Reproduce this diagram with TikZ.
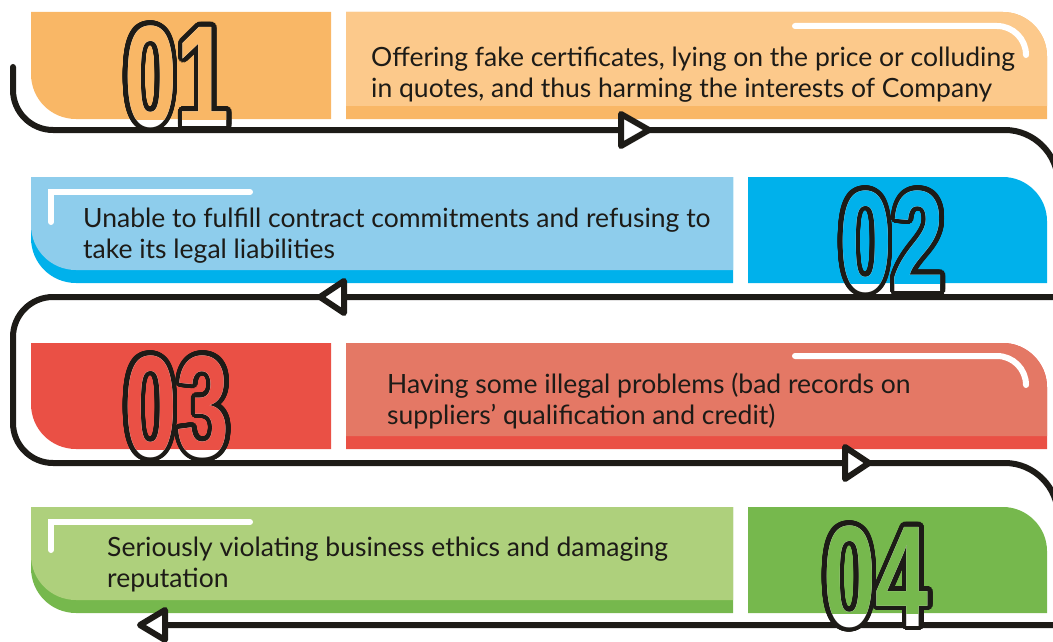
\documentclass[tikz,border=0pt]{standalone}
\usepackage{fontspec}
\setmainfont{Lato}
\newfontfamily\digitfont{Liberation Sans}[FakeStretch=0.66]
\usepackage[copies]{contour}
\contourlength{4.5pt}
\contournumber{48}
\definecolor{inkblack}{HTML}{1D1B17}
\definecolor{orangedark}{HTML}{F9B766}
\definecolor{orangelight}{HTML}{FCC98B}
\definecolor{cyandark}{HTML}{00B1EB}
\definecolor{cyanlight}{HTML}{8ECDEC}
\definecolor{reddark}{HTML}{EA5045}
\definecolor{redlight}{HTML}{E47865}
\definecolor{greendark}{HTML}{76B84D}
\definecolor{greenlight}{HTML}{AED07C}

\begin{document}
\begin{tikzpicture}[x=1pt,y=-1pt,
  track/.style={line width=6pt, draw=inkblack, line cap=round, line join=round},
  arrowtri/.style={line width=6pt, draw=inkblack, fill=white, line join=round},
  glint/.style={line width=6pt, draw=white, line cap=round},
  digits/.style={font=\digitfont\bfseries\fontsize{144}{144}\selectfont, inner sep=0pt, anchor=base},
  caption/.style={font=\fontsize{26.5}{31}\selectfont, text=inkblack, align=left, inner sep=0pt, anchor=north west}]
\useasboundingbox (0,0) rectangle (1053,642);
\clip (0,0) rectangle (1053,642);
% row 1
\fill[orangedark] (31,12) -- (331,12) -- (331,119) -- (76,119) .. controls (51,119) and (31,99) .. (31,74) -- cycle;
\fill[orangedark] (346,12) -- (1003,12) .. controls (1027,12) and (1047,32) .. (1047,56) -- (1047,119) -- (346,119) -- cycle;
\fill[orangelight] (346,12) -- (1003,12) .. controls (1027,12) and (1047,32) .. (1047,56) -- (1047,106) -- (346,106) -- cycle;
\draw[glint] (795,26) -- (997,26) .. controls (1013,26) and (1026,39) .. (1026,55);
% row 2
\fill[cyandark] (31,177) -- (733,177) -- (733,283) -- (76,283) .. controls (51,283) and (31,263) .. (31,238) -- cycle;
\fill[cyanlight] (31,177) -- (733,177) -- (733,270) -- (76,270) .. controls (51,270) and (31,250) .. (31,225) -- cycle;
\fill[cyandark] (748,177) -- (1003,177) .. controls (1027,177) and (1047,197) .. (1047,221) -- (1047,283) -- (748,283) -- cycle;
\draw[glint] (51,222) -- (51,192) -- (250,192);
% row 3
\fill[reddark] (31,343) -- (331,343) -- (331,449) -- (76,449) .. controls (51,449) and (31,429) .. (31,404) -- cycle;
\fill[reddark] (346,343) -- (1003,343) .. controls (1027,343) and (1047,363) .. (1047,387) -- (1047,449) -- (346,449) -- cycle;
\fill[redlight] (346,343) -- (1003,343) .. controls (1027,343) and (1047,363) .. (1047,387) -- (1047,436) -- (346,436) -- cycle;
\draw[glint] (795,356) -- (997,356) .. controls (1013,356) and (1026,369) .. (1026,385);
% row 4
\fill[greendark] (31,507) -- (733,507) -- (733,613) -- (76,613) .. controls (51,613) and (31,593) .. (31,568) -- cycle;
\fill[greenlight] (31,507) -- (733,507) -- (733,600) -- (76,600) .. controls (51,600) and (31,580) .. (31,555) -- cycle;
\fill[greendark] (748,507) -- (1003,507) .. controls (1027,507) and (1047,527) .. (1047,551) -- (1047,613) -- (748,613) -- cycle;
\draw[glint] (51,550) -- (51,522) -- (250,522);
% track
\coordinate (start) at (13,67);
\coordinate (a1) at (635,130);
\coordinate (a2) at (332,297);
\coordinate (a3) at (857,463);
\coordinate (a4) at (153,625);
\draw[track] (start) -- (13,90) .. controls (13,112) and (31,130) .. (53,130) -- (a1) -- (1005,130)
  .. controls (1034,130) and (1058,154) .. (1058,183) -- (1058,297) -- (a2) -- (53,297)
  .. controls (31,297) and (13,315) .. (13,337) -- (13,423) .. controls (13,445) and (31,463) .. (53,463)
  -- (a3) -- (1005,463) .. controls (1034,463) and (1058,487) .. (1058,516) -- (1058,625) -- (a4);
\draw[arrowtri] ([shift={(-14,-16)}]a1) -- ([shift={(14,0)}]a1) -- ([shift={(-14,16)}]a1) -- cycle;
\draw[arrowtri] ([shift={(12,-16)}]a2) -- ([shift={(-12,0)}]a2) -- ([shift={(12,16)}]a2) -- cycle;
\draw[arrowtri] ([shift={(-12,-16)}]a3) -- ([shift={(12,0)}]a3) -- ([shift={(-12,16)}]a3) -- cycle;
\draw[arrowtri] ([shift={(12,-15)}]a4) -- ([shift={(-13,0)}]a4) -- ([shift={(12,15)}]a4) -- cycle;
% numbers
\node[digits, text=white] (n1) at (177,126) {\contour{inkblack}{01}};
\node[digits, text=white] (n2) at (892,291) {\contour{inkblack}{02}};
\node[digits, text=white] (n3) at (177,456) {\contour{inkblack}{03}};
\node[digits, text=white] (n4) at (876,626) {\contour{inkblack}{04}};
\begin{scope}
\clip (31,12) rectangle (331,119);
\node[digits, text=orangedark] at (n1.base) {01};
\end{scope}
\begin{scope}
\clip (748,177) rectangle (1047,283);
\node[digits, text=cyandark] at (n2.base) {02};
\end{scope}
\begin{scope}
\clip (31,343) rectangle (331,449);
\node[digits, text=reddark] at (n3.base) {03};
\end{scope}
\begin{scope}
\clip (748,507) rectangle (1047,613);
\node[digits, text=greendark] at (n4.base) {04};
\end{scope}
% texts
\node[caption] (t1) at (371,47) {Offering fake certificates, lying on the price or colluding\\in quotes, and thus harming the interests of Company};
\node[caption] (t2) at (83,208) {Unable to fulfill contract commitments and refusing to\\take its legal liabilities};
\node[caption] (t3) at (387,373) {Having some illegal problems (bad records on\\suppliers’ qualification and credit)};
\node[caption] (t4) at (107,537) {Seriously violating business ethics and damaging\\reputation};
\end{tikzpicture}
\end{document}
